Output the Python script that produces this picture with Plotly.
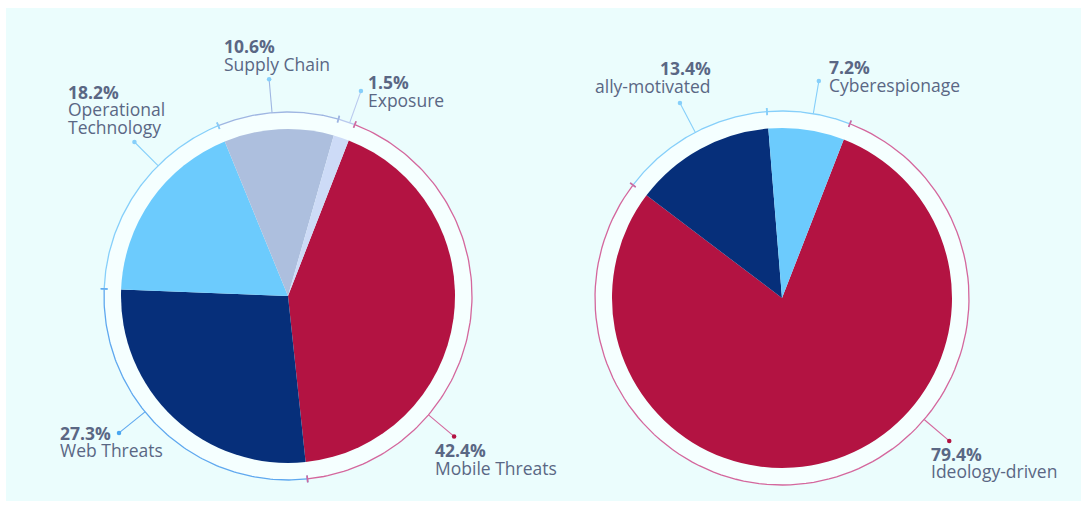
import numpy as np
import plotly.graph_objects as go

W, H = 1088, 509

# ---- data -------------------------------------------------------------
threat_labels = ["Mobile Threats", "Web Threats", "Operational Technology", "Supply Chain", "Exposure"]
threat_values = [42.4, 27.3, 18.2, 10.6, 1.5]

motive_labels = ["Ideology-driven", "ally-motivated", "Cyberespionage"]
motive_values = [79.4, 13.4, 7.2]

# ---- styling ----------------------------------------------------------
RED, NAVY, SKY, STEEL, MIST = "#b31342", "#062f7a", "#6ccbfd", "#adbfde", "#cddbf7"
RING_RED, RING_BLUE, RING_SKY, RING_STEEL, RING_MIST = "#d4679d", "#5fa8ef", "#86cffa", "#9fb6e2", "#b9c9ee"
TEXT = "#5a6784"
PANEL = "#ebfdfd"
HALO = "#f5ffff"
FONT = "Open Sans"
FONT_SIZE = 17.5

START_ANGLE = 21.3          # degrees clockwise from 12 o'clock

threat_colors = [RED, NAVY, SKY, STEEL, MIST]
threat_ring = [RING_RED, RING_BLUE, RING_SKY, RING_STEEL, RING_MIST]
threat_dots = [RED, "#4aa6f0", RING_SKY, RING_SKY, RING_SKY]
motive_colors = [RED, NAVY, SKY]
motive_ring = [RING_RED, RING_SKY, RING_SKY]
motive_dots = [RED, RING_SKY, RING_SKY]

# geometry of each pie (pixel space)
left_geom = dict(cx=288, cy=296, r=167, ring=184, dot=217.5)
right_geom = dict(cx=782, cy=298, r=170, ring=187, dot=220)

# label leader placement: angular shift from slice middle, text offsets from dot
threat_shift = [32.6, 7.9, 10.1, -1.8, 1.0]
threat_text = [(-20, 14, "left"), (-60, 0, "left"), (-67, -50, "left"), (-46, -33, "left"), (6, -9, "left")]
motive_shift = [-33.7, 1.1, 1.3]
motive_text = [(-19, 13, "left"), (32, -35, "right"), (9, -14, "left")]
LINE_STEP = 17.5

wrap = {"Operational Technology": ["Operational", "Technology"]}


def pt(g, radius, ang):
    a = np.radians(ang)
    return g["cx"] + radius * np.sin(a), g["cy"] - radius * np.cos(a)


fig = go.Figure()
shapes = [
    dict(type="rect", xref="x", yref="y", x0=6, y0=8, x1=1081, y1=501,
         fillcolor=PANEL, line=dict(width=0), layer="below"),
]
annotations = []


def add_pie(labels, values, colors, ring_cols, dot_cols, shifts, text_pos, g):
    # pale disc behind the pie, out to the ring
    shapes.append(dict(type="circle", xref="x", yref="y",
                       x0=g["cx"] - g["ring"], x1=g["cx"] + g["ring"],
                       y0=g["cy"] - g["ring"], y1=g["cy"] + g["ring"],
                       fillcolor=HALO, line=dict(width=0), layer="below"))
    fig.add_trace(go.Pie(
        labels=labels, values=values, sort=False, direction="clockwise",
        rotation=START_ANGLE, textinfo="none", hoverinfo="label+percent",
        marker=dict(colors=colors, line=dict(width=0)), showlegend=False,
        domain=dict(x=[(g["cx"] - g["r"]) / W, (g["cx"] + g["r"]) / W],
                    y=[1 - (g["cy"] + g["r"]) / H, 1 - (g["cy"] - g["r"]) / H]),
    ))
    total = float(sum(values))
    edges = START_ANGLE + 360 * np.concatenate([[0], np.cumsum(values)]) / total
    # outer ring arcs
    for i in range(len(values)):
        th = np.linspace(edges[i], edges[i + 1], 120)
        x, y = pt(g, g["ring"], th)
        fig.add_trace(go.Scatter(x=x, y=y, mode="lines", hoverinfo="skip",
                                 line=dict(color=ring_cols[i], width=1.3), showlegend=False))
    # boundary ticks (larger slices drawn last so they win)
    for i in reversed(range(len(values))):
        for ang in (edges[i], edges[i + 1]):
            x0, y0 = pt(g, g["ring"] - 3.5, ang)
            x1, y1 = pt(g, g["ring"] + 3.5, ang)
            fig.add_trace(go.Scatter(x=[x0, x1], y=[y0, y1], mode="lines", hoverinfo="skip",
                                     line=dict(color=ring_cols[i], width=1.6), showlegend=False))
    # leaders and labels
    for i, (lab, v) in enumerate(zip(labels, values)):
        mid = (edges[i] + edges[i + 1]) / 2 + shifts[i]
        xs, ys = pt(g, g["ring"], mid)
        xd, yd = pt(g, g["dot"], mid)
        fig.add_trace(go.Scatter(x=[xs, xd], y=[ys, yd], mode="lines", hoverinfo="skip",
                                 line=dict(color=ring_cols[i], width=1.1), showlegend=False))
        fig.add_trace(go.Scatter(x=[xd], y=[yd], mode="markers", hoverinfo="skip",
                                 marker=dict(color=dot_cols[i], size=4.5), showlegend=False))
        dx, dy, align = text_pos[i]
        lines = [f"<b>{v:.1f}%</b>"] + wrap.get(lab, [lab])
        for k, line in enumerate(lines):
            annotations.append(dict(
                x=xd + dx, y=yd + dy + k * LINE_STEP, xref="x", yref="y",
                text=line, showarrow=False, xanchor=align, yanchor="middle",
                font=dict(family=FONT, size=FONT_SIZE, color=TEXT), borderpad=0,
            ))


add_pie(threat_labels, threat_values, threat_colors, threat_ring, threat_dots,
        threat_shift, threat_text, left_geom)
add_pie(motive_labels, motive_values, motive_colors, motive_ring, motive_dots,
        motive_shift, motive_text, right_geom)

fig.update_layout(
    width=W, height=H, margin=dict(l=0, r=0, t=0, b=0),
    paper_bgcolor="white", plot_bgcolor="rgba(0,0,0,0)",
    xaxis=dict(range=[0, W], visible=False, fixedrange=True),
    yaxis=dict(range=[H, 0], visible=False, fixedrange=True),
    shapes=shapes, annotations=annotations,
)

fig.write_html("out.html")
